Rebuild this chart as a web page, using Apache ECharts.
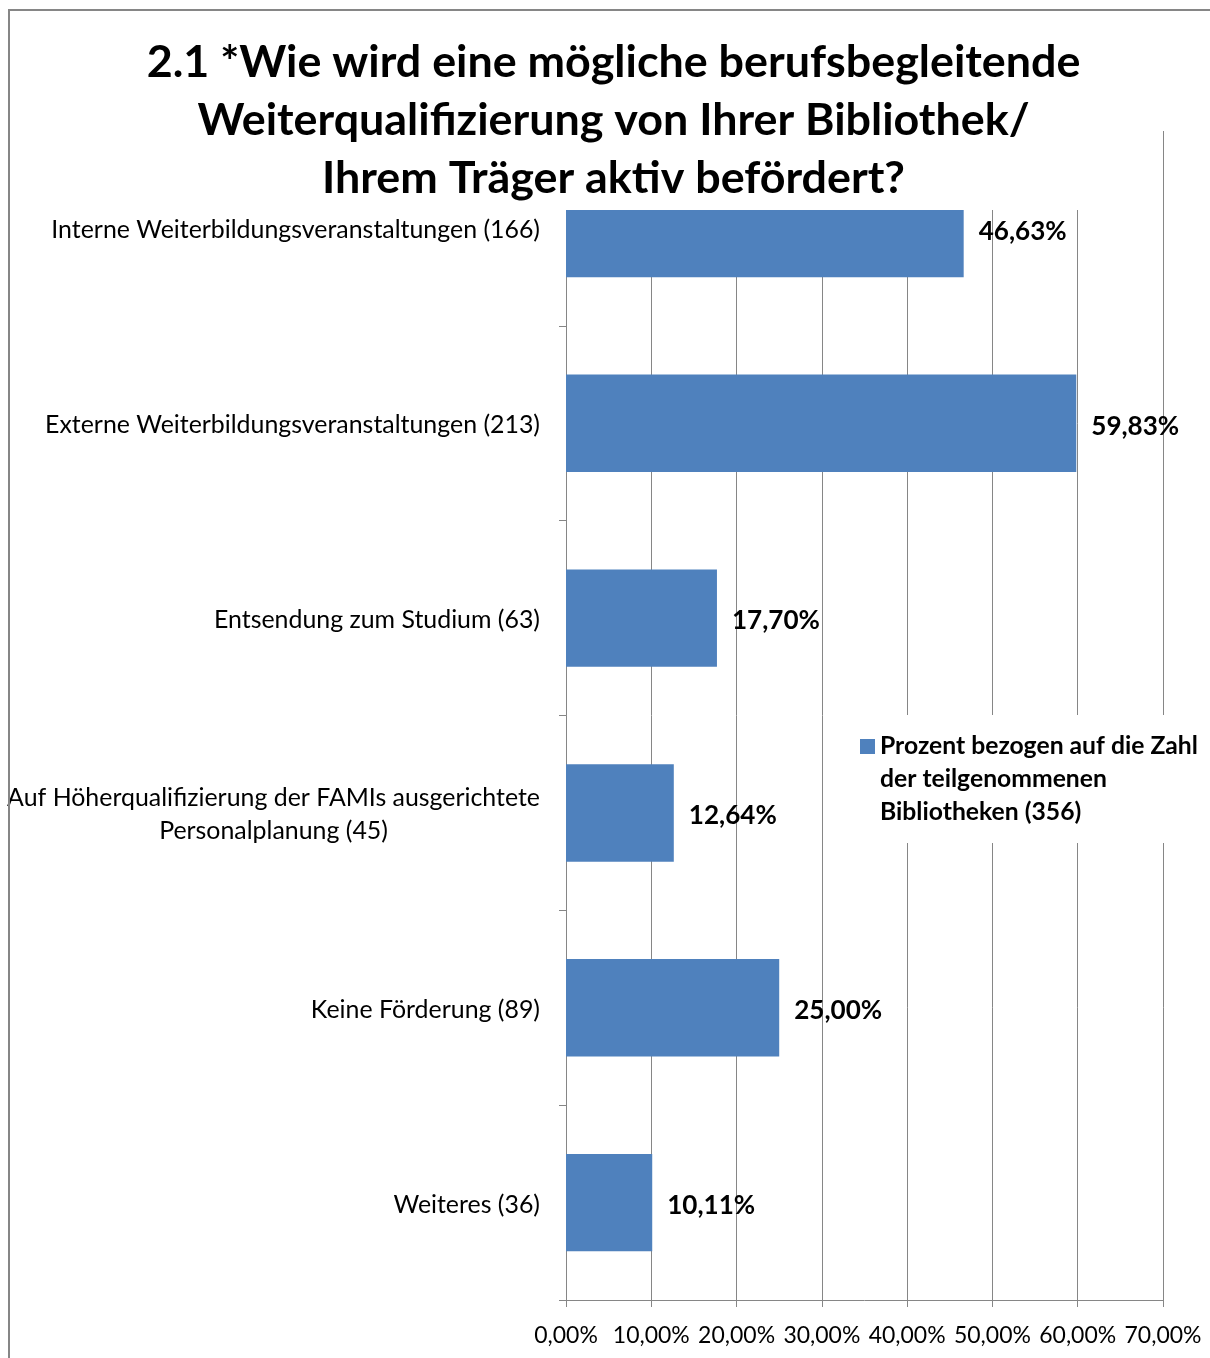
<!DOCTYPE html>
<html><head><meta charset="utf-8">
<script src="https://cdn.jsdelivr.net/npm/echarts@6/dist/echarts.min.js"></script>
<style>html,body{margin:0;padding:0;background:#fff}#c{width:1210px;height:1358px}</style>
</head><body><div id="c"></div>
<script>
const categories = [
  'Interne Weiterbildungsveranstaltungen (166)',
  'Externe Weiterbildungsveranstaltungen (213)',
  'Entsendung zum Studium (63)',
  'Auf Höherqualifizierung der FAMIs ausgerichtete\nPersonalplanung (45)',
  'Keine Förderung (89)',
  'Weiteres (36)'
];
const values = [46.63, 59.83, 17.70, 12.64, 25.00, 10.11];
const titleLines = [
  '2.1 *Wie wird eine mögliche berufsbegleitende',
  'Weiterqualifizierung von Ihrer Bibliothek/',
  'Ihrem Träger aktiv befördert?'
];
const seriesName = 'Prozent bezogen auf die Zahl der teilgenommenen Bibliotheken (356)';
const legendLines = ['Prozent bezogen auf die Zahl', 'der teilgenommenen', 'Bibliotheken (356)'];
const xMin = 0, xMax = 70, xInterval = 10;

const FONT = 'Lato';
const ctx = document.createElement('canvas').getContext('2d');
function fit(text, weight, target) {
  ctx.font = weight + ' 100px ' + FONT;
  return 100 * target / ctx.measureText(text).width;
}
const titleSize = fit(titleLines[2], 'bold', 583);
const labelSize = fit('Interne Weiterbildungsveranstaltungen (166)', 'normal', 489);
const boldSize = fit('Prozent bezogen auf die Zahl', 'bold', 318);
const valueSize = fit('46,63%', 'bold', 88);
const axisSize = fit('70,00%', 'normal', 77);
const fmtPct = v => v.toFixed(2).replace('.', ',') + '%';
const GRAY = '#868686';

const chart = echarts.init(document.getElementById('c'), null, {renderer: 'canvas'});
const titleGraphics = titleLines.map((t, i) => ({
  type: 'text', z: 11, silent: true,
  style: {text: t, x: 613.5, y: 63 + i * 58, align: 'center', verticalAlign: 'middle',
    font: 'bold ' + titleSize.toFixed(2) + 'px ' + FONT, fill: '#000'}
}));
chart.setOption({
  animation: false,
  backgroundColor: '#fff',
  grid: {left: 566, right: 47, top: 131, bottom: 58, containLabel: false, outerBoundsMode: 'none'},
  xAxis: {
    type: 'value', min: xMin, max: xMax, interval: xInterval,
    axisLine: {show: true, lineStyle: {color: GRAY, width: 1}},
    axisTick: {show: true, length: 7, lineStyle: {color: GRAY}},
    splitLine: {show: true, lineStyle: {color: GRAY, width: 1}},
    axisLabel: {formatter: fmtPct, margin: 24, color: '#000', fontFamily: FONT, fontSize: axisSize}
  },
  yAxis: {
    type: 'category', inverse: true, data: categories,
    axisLine: {show: true, lineStyle: {color: GRAY, width: 1}},
    axisTick: {show: true, length: 7, lineStyle: {color: GRAY}},
    splitLine: {show: false},
    axisLabel: {
      margin: 26, align: 'right', color: '#000',
      formatter: v => v.split('\n').map(l => '{c|' + l + '}').join('\n'),
      rich: {c: {align: 'center', fontFamily: FONT, fontSize: labelSize, lineHeight: 33, color: '#000', padding: [4, 0, 0, 0]}}
    }
  },
  legend: {
    show: true, left: 860, top: 664, padding: 0, z: 12,
    icon: 'rect', itemWidth: 15, itemHeight: 15,
    data: [seriesName],
    formatter: () => '\n\n' + legendLines.join('\n'),
    textStyle: {fontFamily: FONT, fontWeight: 'bold', fontSize: boldSize, lineHeight: 33, color: '#000'}
  },
  series: [{
    name: seriesName, type: 'bar', data: values, barCategoryGap: '50%',
    itemStyle: {color: '#4F81BD'},
    label: {show: true, position: 'right', distance: 15, offset: [0, 3], formatter: p => fmtPct(p.value),
      fontFamily: FONT, fontWeight: 'bold', fontSize: valueSize, color: '#000'}
  }],
  graphic: [
    {type: 'rect', z: 10, silent: true, shape: {x: 130, y: 12, width: 970, height: 198}, style: {fill: '#fff'}},
    {type: 'rect', z: 10, silent: true, shape: {x: 855, y: 715, width: 352, height: 128}, style: {fill: '#fff'}},
    ...titleGraphics,
    {type: 'rect', z: 20, silent: true, shape: {x: 9, y: 10, width: 1400, height: 1400}, style: {fill: 'none', stroke: GRAY, lineWidth: 2}}
  ]
});
</script></body></html>
